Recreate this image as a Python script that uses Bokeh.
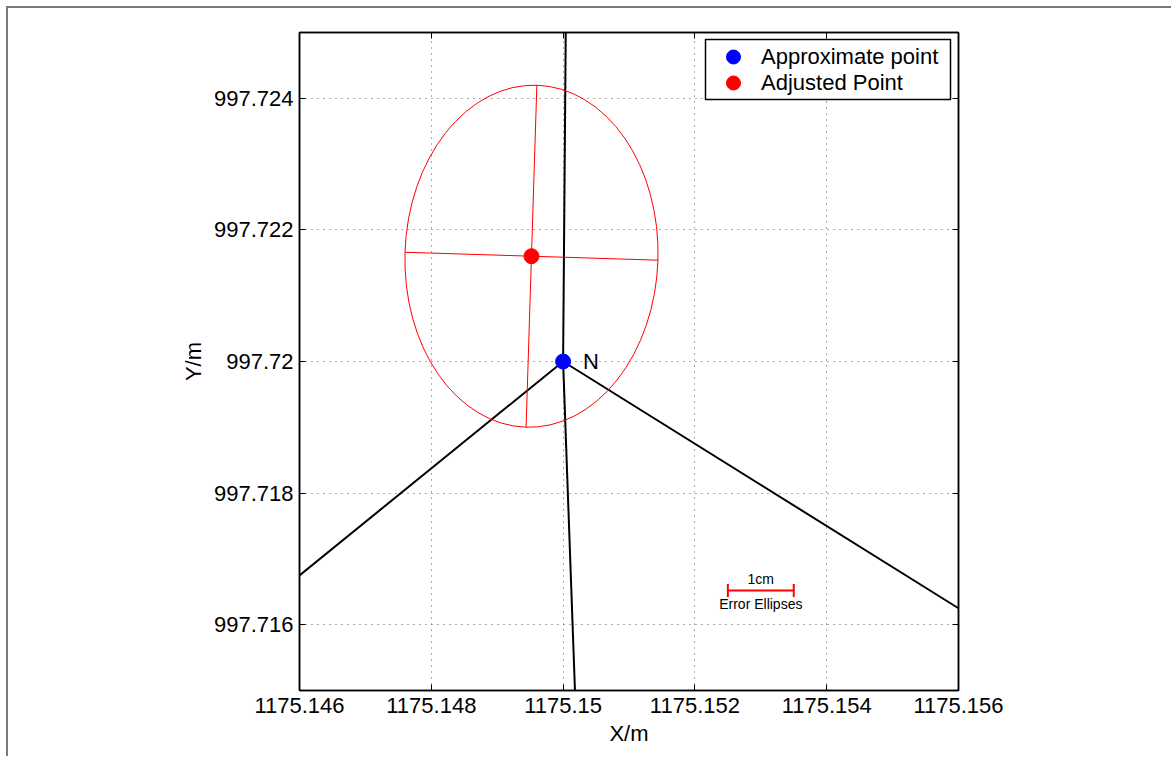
import math
from bokeh.plotting import figure
from bokeh.models import FixedTicker, LinearAxis, Range1d, Legend, LegendItem, BoxAnnotation
from bokeh.core.properties import value
from bokeh.embed import file_html
from bokeh.resources import INLINE

# ---- data ----
x_ticks = [1175.146, 1175.148, 1175.150, 1175.152, 1175.154, 1175.156]
x_tick_labels = ["1175.146", "1175.148", "1175.15", "1175.152", "1175.154", "1175.156"]
y_ticks = [997.716, 997.718, 997.720, 997.722, 997.724]
y_tick_labels = ["997.716", "997.718", "997.72", "997.722", "997.724"]
x_limits = [1175.146, 1175.156]
y_limits = [997.715, 997.725]

approx_x = [1175.150]
approx_y = [997.720]
adjusted_x = [1175.14952]
adjusted_y = [997.7216]

# observation lines from N towards neighbouring stations (clipped to view)
line_end_x = [1175.146, 1175.156, 1175.15004, 1175.15018]
line_end_y = [997.71675, 997.71625, 997.725, 997.715]

# error ellipse (semi-axes in plot units, rotation in radians)
ell_semi_minor = 0.00192
ell_semi_major = 0.0026
ell_angle = -0.0314

# scale bar: 1 cm
scale_x0 = 1175.1525
scale_len = 0.001
scale_y = 997.71652
scale_tick = 0.0001

FONT = "Liberation Sans"

p = figure(width=1165, height=750, output_backend="svg", toolbar_location=None,
           x_range=Range1d(*x_limits), y_range=Range1d(*y_limits),
           min_border_left=291, min_border_right=215, min_border_top=24, min_border_bottom=68,
           margin=(6, 0, 0, 6),
           styles={"border-top": "2px solid #7a7a7a", "border-left": "2px solid #7a7a7a"})
p.outline_line_color = "black"
p.outline_line_width = 1.5
p.background_fill_color = "white"
p.border_fill_color = "white"

# axes
for ax in [p.xaxis[0], p.yaxis[0]]:
    ax.major_tick_in = 6
    ax.major_tick_out = 0
    ax.minor_tick_in = 0
    ax.minor_tick_out = 0
    ax.axis_line_color = "black"
    ax.axis_line_width = 1.5
    ax.major_tick_line_color = "black"
    ax.major_label_text_font = FONT
    ax.major_label_text_font_size = "22px"
    ax.major_label_text_color = "black"
    ax.axis_label_text_font = FONT
    ax.axis_label_text_font_size = "22px"
    ax.axis_label_text_font_style = "normal"
    ax.axis_label_text_color = "black"

p.xaxis[0].ticker = FixedTicker(ticks=x_ticks)
p.yaxis[0].ticker = FixedTicker(ticks=y_ticks)
p.xaxis[0].major_label_overrides = dict(zip(x_ticks, x_tick_labels))
p.yaxis[0].major_label_overrides = dict(zip(y_ticks, y_tick_labels))
p.xaxis[0].axis_label = "X/m"
p.yaxis[0].axis_label = "Y/m"
p.xaxis[0].major_label_standoff = 7
p.yaxis[0].major_label_standoff = 6
p.xaxis[0].axis_label_standoff = 5
p.yaxis[0].axis_label_standoff = 5

top_ax = LinearAxis(ticker=FixedTicker(ticks=x_ticks), major_label_text_alpha=0,
                    major_label_text_font_size="1px",
                    major_tick_in=6, major_tick_out=0, minor_tick_in=0, minor_tick_out=0,
                    axis_line_width=1.5)
right_ax = LinearAxis(ticker=FixedTicker(ticks=y_ticks), major_label_text_alpha=0,
                      major_label_text_font_size="1px",
                      major_tick_in=6, major_tick_out=0, minor_tick_in=0, minor_tick_out=0,
                      axis_line_width=1.5)
p.add_layout(top_ax, "above")
p.add_layout(right_ax, "right")

# grid
p.xgrid.ticker = FixedTicker(ticks=x_ticks)
p.ygrid.ticker = FixedTicker(ticks=y_ticks)
for g in [p.xgrid[0], p.ygrid[0]]:
    g.grid_line_color = "#555555"
    g.grid_line_dash = "1 5"
    g.grid_line_width = 1

# observation lines
p.segment(x0=approx_x * len(line_end_x), y0=approx_y * len(line_end_y),
          x1=line_end_x, y1=line_end_y, line_color="black", line_width=2)

# error ellipse
p.ellipse(x=adjusted_x, y=adjusted_y, width=[2 * ell_semi_minor], height=[2 * ell_semi_major],
          angle=ell_angle, fill_color=None, line_color="#ff0000", line_width=1)
cx, cy = adjusted_x[0], adjusted_y[0]
c, s = math.cos(ell_angle), math.sin(ell_angle)
ax_x0 = [cx - ell_semi_minor * c, cx + ell_semi_major * s]
ax_y0 = [cy - ell_semi_minor * s, cy - ell_semi_major * c]
ax_x1 = [cx + ell_semi_minor * c, cx - ell_semi_major * s]
ax_y1 = [cy + ell_semi_minor * s, cy + ell_semi_major * c]
p.segment(x0=ax_x0, y0=ax_y0, x1=ax_x1, y1=ax_y1, line_color="#ff0000", line_width=1)

# points
r_approx = p.scatter(x=approx_x, y=approx_y, marker="circle", size=15,
                     fill_color="#0000ff", line_color="#0000ff")
r_adj = p.scatter(x=adjusted_x, y=adjusted_y, marker="circle", size=15,
                  fill_color="#ff0000", line_color="#ff0000")

p.text(x=approx_x, y=approx_y, text=["N"], x_offset=20, text_baseline="middle",
       text_font=value(FONT), text_font_size="22px", text_color="black")

# scale bar
p.segment(x0=[scale_x0, scale_x0, scale_x0 + scale_len],
          y0=[scale_y, scale_y - scale_tick, scale_y - scale_tick],
          x1=[scale_x0 + scale_len, scale_x0, scale_x0 + scale_len],
          y1=[scale_y, scale_y + scale_tick, scale_y + scale_tick],
          line_color="#ff0000", line_width=2)
p.text(x=[scale_x0 + scale_len / 2], y=[scale_y], text=["1cm"], text_align="center",
       text_baseline="bottom", y_offset=-3,
       text_font=value(FONT), text_font_size="14px", text_color="black")
p.text(x=[scale_x0 + scale_len / 2], y=[scale_y], text=["Error Ellipses"], text_align="center",
       text_baseline="top", y_offset=6,
       text_font=value(FONT), text_font_size="14px", text_color="black")

# legend: two single-row legends stacked, plus a shared frame
# (BoxAnnotation screen units here are frame-relative, measured from the frame bottom)
leg_box = BoxAnnotation(left=406, right=651, top=651, bottom=591,
                        left_units="screen", right_units="screen",
                        top_units="screen", bottom_units="screen",
                        fill_color="white", fill_alpha=1,
                        line_color="black", line_alpha=1, line_width=1.5, level="annotation")
p.add_layout(leg_box)

common = dict(padding=0, spacing=0, glyph_width=56, glyph_height=35, label_standoff=0,
              label_height=26, label_text_font=FONT, label_text_font_size="22px",
              label_text_color="black",
              border_line_color=None, background_fill_alpha=0)
leg1 = Legend(items=[LegendItem(label="Approximate point", renderers=[r_approx])],
              location=(406, 616), **common)
leg2 = Legend(items=[LegendItem(label="Adjusted Point", renderers=[r_adj])],
              location=(406, 590), **common)
p.add_layout(leg1)
p.add_layout(leg2)

open("out.html", "w").write(file_html(p, INLINE))
